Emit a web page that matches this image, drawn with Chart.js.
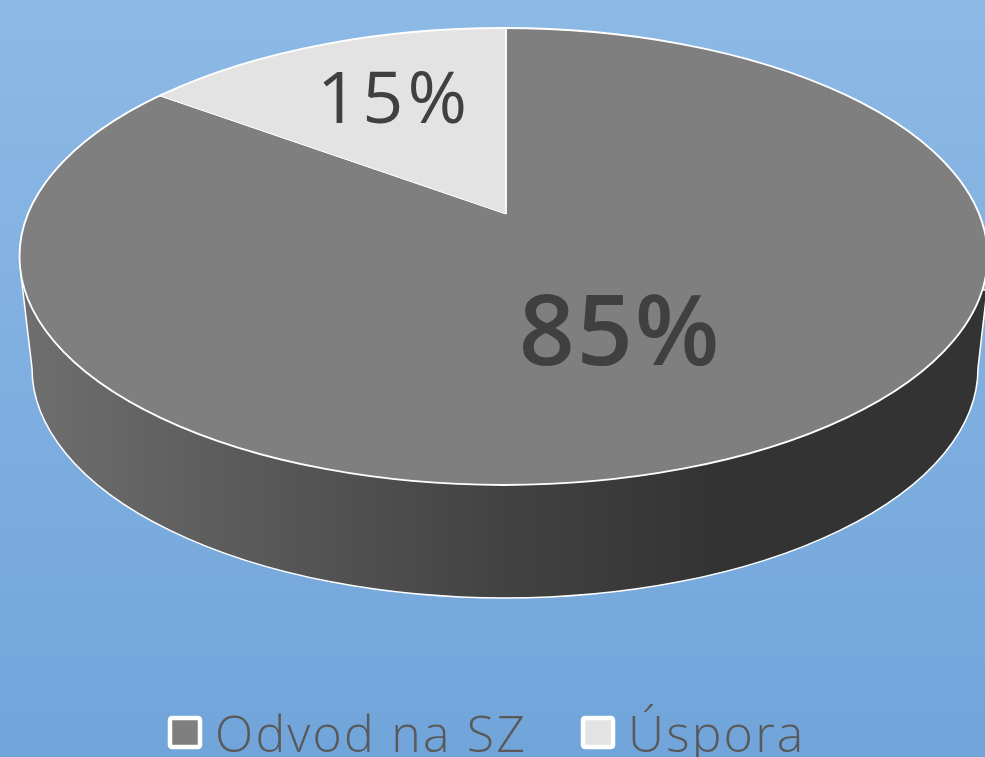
<!DOCTYPE html>
<html>
<head>
<meta charset="utf-8">
<style>
  html, body { margin: 0; padding: 0; overflow: hidden; background: #7fb0df; }
  canvas { display: block; }
</style>
<script src="https://cdn.jsdelivr.net/npm/chart.js@4"></script>
</head>
<body>
<canvas id="myChart" width="985" height="757"></canvas>
<script>
var categories = ['Odvod na SZ', 'Úspora'];
var values = [85, 15];
var sliceColors = ['#7f7f7f', '#e3e3e3'];

// 3d look: top ellipse, apex of the slices, lower edge of the wall
var top3d = { x: 503.5, y: 256.5, rx: 484, ry: 228.5 };
var apex = { x: 506, y: 214 };
var squash = 0.47;
var wall = { x: 505, y: 368, rx: 473, ry: 230 };

// label offsets are from the apex
var labelStyles = [
  { dx: 114, dy: 123, spacing: '2px', font: '600 98px "Open Sans"' },
  { dx: -112, dy: -112, spacing: '4px', font: '72px "Open Sans"' }
];

function ellipsePath(ctx, e) {
  ctx.beginPath();
  ctx.ellipse(e.x, e.y, e.rx, e.ry, 0, 0, Math.PI * 2);
}

var background = {
  id: 'background',
  beforeDraw(chart) {
    var ctx = chart.ctx;
    var grad = ctx.createLinearGradient(0, 0, 0, chart.height);
    grad.addColorStop(0, '#8db9e5');
    grad.addColorStop(1, '#71a5da');
    ctx.save();
    ctx.fillStyle = grad;
    ctx.fillRect(0, 0, chart.width, chart.height);
    ctx.restore();
  }
};

var pie3d = {
  id: 'pie3d',
  beforeDatasetsDraw(chart) {
    var ctx = chart.ctx;
    var arc = chart.getDatasetMeta(0).data[0];

    // wall under the pie
    var grad = ctx.createLinearGradient(30, 0, 985, 0);
    grad.addColorStop(0, '#6e6e6e');
    grad.addColorStop(0.5, '#424242');
    grad.addColorStop(0.72, '#333333');
    grad.addColorStop(1, '#333333');
    ctx.save();
    ctx.beginPath();
    ctx.moveTo(21, 275);
    ctx.lineTo(wall.x - wall.rx, wall.y);
    ctx.ellipse(wall.x, wall.y, wall.rx, wall.ry, 0, Math.PI, 0, true);
    ctx.lineTo(987, 290);
    ctx.closePath();
    ctx.fillStyle = grad;
    ctx.fill();
    ctx.strokeStyle = '#ffffff';
    ctx.lineWidth = 1.5;
    ctx.stroke();
    ctx.restore();

    // slices are oversized circles, squashed and cut by the top ellipse
    ctx.save();
    ellipsePath(ctx, top3d);
    ctx.clip();
    ctx.translate(apex.x, apex.y);
    ctx.scale(1, squash);
    ctx.translate(-arc.x, -arc.y);
  },
  afterDatasetsDraw(chart) {
    var ctx = chart.ctx;
    ctx.restore();

    ctx.save();
    ellipsePath(ctx, top3d);
    ctx.strokeStyle = '#ffffff';
    ctx.lineWidth = 1.8;
    ctx.stroke();

    // percent labels
    ctx.fillStyle = '#404040';
    ctx.textAlign = 'center';
    ctx.textBaseline = 'middle';
    values.forEach(function (value, i) {
      var style = labelStyles[i];
      ctx.font = style.font;
      ctx.letterSpacing = style.spacing;
      ctx.fillText(value + '%', apex.x + style.dx, apex.y + style.dy);
    });
    ctx.restore();
  }
};

var bottomLegend = {
  id: 'bottomLegend',
  afterDraw(chart) {
    var ctx = chart.ctx;
    var boxX = [170, 583];
    ctx.save();
    ctx.font = '300 50px "Open Sans"';
    ctx.letterSpacing = '2.2px';
    ctx.textBaseline = 'alphabetic';
    categories.forEach(function (name, i) {
      ctx.beginPath();
      ctx.roundRect(boxX[i], 718, 30, 29, 2);
      ctx.fillStyle = sliceColors[i];
      ctx.fill();
      ctx.strokeStyle = '#ffffff';
      ctx.lineWidth = 4.5;
      ctx.stroke();
      ctx.fillStyle = '#595959';
      ctx.fillText(name, boxX[i] + 45, 752);
    });
    ctx.restore();
  }
};

var ctx = document.getElementById('myChart');
var myChart = new Chart(ctx, {
  type: 'pie',
  data: {
    labels: categories,
    datasets: [{
      data: values,
      backgroundColor: sliceColors,
      borderColor: '#ffffff',
      borderWidth: 1.5,
      clip: false
    }]
  },
  options: {
    responsive: false,
    animation: false,
    radius: 640,
    rotation: 0,
    events: [],
    plugins: {
      legend: { display: false },
      tooltip: { enabled: false }
    }
  },
  plugins: [background, pie3d, bottomLegend]
});
</script>
</body>
</html>
